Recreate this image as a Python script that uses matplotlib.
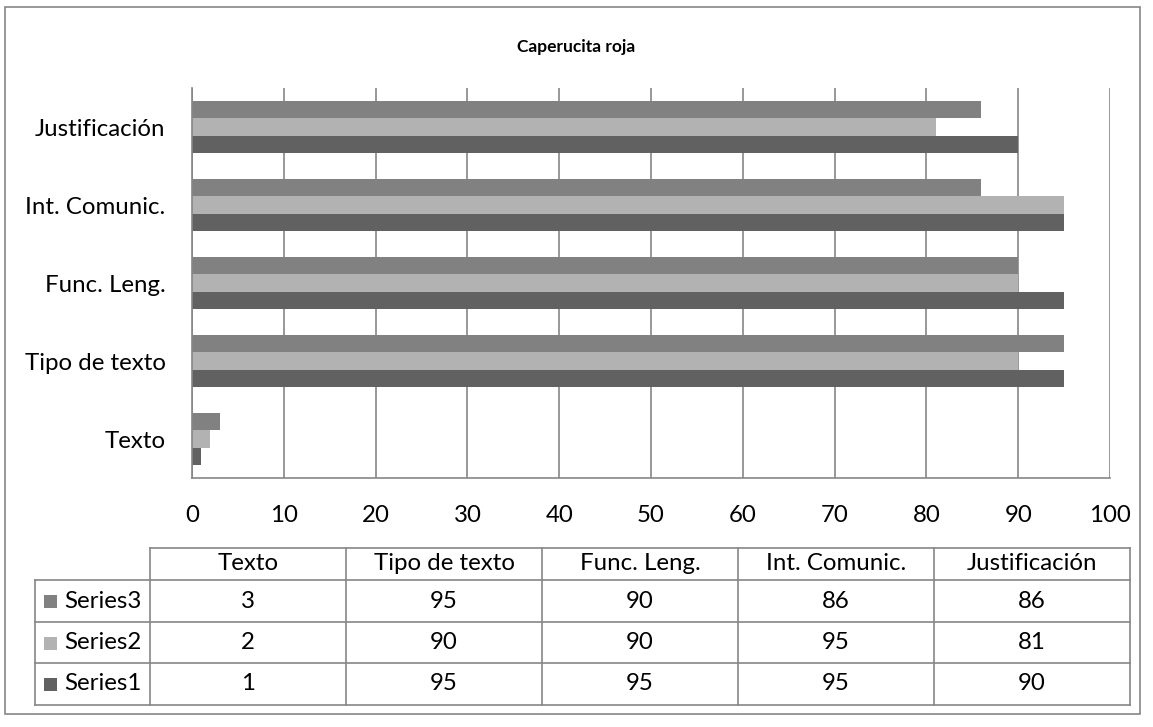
import matplotlib
matplotlib.use("Agg")
import matplotlib.pyplot as plt
from matplotlib.patches import Rectangle
from matplotlib.lines import Line2D

categories = ["Texto", "Tipo de texto", "Func. Leng.", "Int. Comunic.", "Justificación"]
series_names = ["Series1", "Series2", "Series3"]
series1 = [1, 95, 95, 95, 90]
series2 = [2, 90, 90, 95, 81]
series3 = [3, 95, 90, 86, 86]
x_ticks = [0, 10, 20, 30, 40, 50, 60, 70, 80, 90, 100]
title = "Caperucita roja"

colors = {"Series1": "#616161", "Series2": "#b2b2b2", "Series3": "#818181"}
values = {"Series1": series1, "Series2": series2, "Series3": series3}

FONT = "Lato"
FS = 17.3
plt.rcParams["font.family"] = [FONT, "DejaVu Sans"]

W, H = 1153, 727
fig = plt.figure(figsize=(W / 100, H / 100), dpi=100)

def fx(px):
    return px / W

def fy(py):
    return 1 - py / H

# outer border
fig.patches.append(Rectangle((fx(5), fy(714)), fx(1140) - fx(5), fy(7) - fy(714),
                             transform=fig.transFigure, fill=False,
                             edgecolor="#868686", linewidth=1.2))

ax = fig.add_axes([fx(192), fy(478), fx(1110) - fx(192), fy(88) - fy(478)])
n = len(categories)
bh = 1 / 4.5
offsets = {"Series1": -bh, "Series2": 0.0, "Series3": bh}
for s in series_names:
    ys = [i + offsets[s] for i in range(n)]
    ax.barh(ys, values[s], height=bh, color=colors[s], zorder=2, linewidth=0)

ax.set_xlim(0, 100)
ax.set_ylim(-0.5, n - 0.5)
ax.set_xticks(x_ticks)
ax.set_xticklabels([str(t) for t in x_ticks], fontsize=FS)
ax.set_yticks(range(n))
ax.set_yticklabels(categories, fontsize=FS)
ax.tick_params(axis="both", length=0)
ax.tick_params(axis="x", pad=19.5)
ax.tick_params(axis="y", pad=19)
ax.grid(axis="x", color="#868686", linewidth=1.2, zorder=0)
ax.set_axisbelow(True)
for side in ["top", "right"]:
    ax.spines[side].set_visible(False)
ax.spines["left"].set_color("#868686")
ax.spines["bottom"].set_color("#868686")
ax.spines["left"].set_linewidth(1.2)
ax.spines["bottom"].set_linewidth(1.2)

fig.text(fx(576), fy(47), title, ha="center", va="center", fontsize=12.5,
         fontweight="bold")

# data table
col_x = [150 + 196 * i for i in range(n + 1)]
row_y = [548, 580, 622, 663, 705]
lc = "#868686"
lw = 1.2

def hline(x0, x1, y):
    fig.lines.append(Line2D([fx(x0), fx(x1)], [fy(y), fy(y)], transform=fig.transFigure,
                            color=lc, linewidth=lw))

def vline(x, y0, y1):
    fig.lines.append(Line2D([fx(x), fx(x)], [fy(y0), fy(y1)], transform=fig.transFigure,
                            color=lc, linewidth=lw))

hline(col_x[0], col_x[-1], row_y[0])
for y in row_y[1:]:
    hline(35, col_x[-1], y)
for x in col_x:
    vline(x, row_y[0], row_y[-1])
vline(35, row_y[1], row_y[-1])

for i, c in enumerate(categories):
    fig.text(fx((col_x[i] + col_x[i + 1]) / 2), fy((row_y[0] + row_y[1]) / 2), c,
             ha="center", va="center", fontsize=FS)

table_order = ["Series3", "Series2", "Series1"]
for r, s in enumerate(table_order):
    yc = (row_y[r + 1] + row_y[r + 2]) / 2
    fig.patches.append(Rectangle((fx(44), fy(yc + 7)), fx(13), fy(0) - fy(13),
                                 transform=fig.transFigure, facecolor=colors[s],
                                 edgecolor="none"))
    fig.text(fx(64), fy(yc), s, ha="left", va="center", fontsize=FS)
    for i in range(n):
        fig.text(fx((col_x[i] + col_x[i + 1]) / 2), fy(yc), str(values[s][i]),
                 ha="center", va="center", fontsize=FS)

fig.savefig("out.png", dpi=100)
